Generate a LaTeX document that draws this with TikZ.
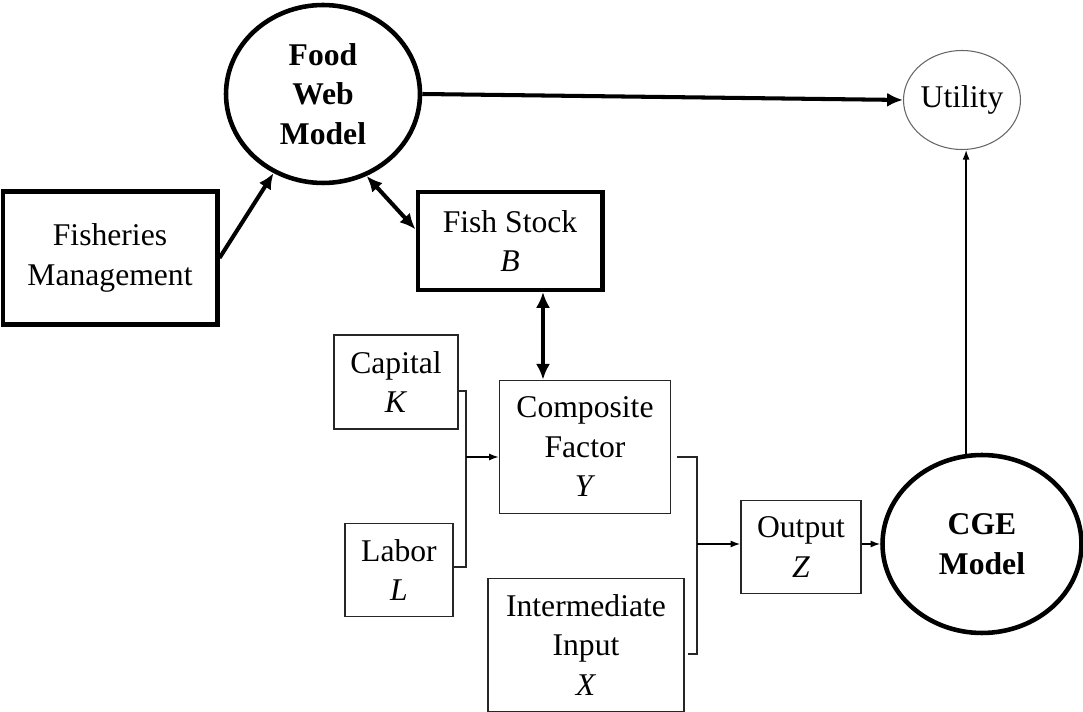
\documentclass[tikz,border=0pt]{standalone}
\usepackage{fontspec}
\setmainfont{Liberation Serif}
\usetikzlibrary{arrows.meta, shapes.geometric}

\begin{document}
\begin{tikzpicture}[x=0.02cm, y=-0.02cm,
    every node/.style={font=\fontsize{18}{22.5}\selectfont, align=center},
    thickbox/.style={draw, line width=2.3pt, inner sep=0pt},
    thinbox/.style={draw=black!85, line width=0.9pt, inner sep=0pt},
    model/.style={ellipse, draw, line width=2.6pt, inner sep=0pt, font=\fontsize{18}{22.5}\selectfont\bfseries},
    big/.style={line width=2.3pt, -{Latex[length=9pt,width=8pt]}},
    both/.style={line width=2.3pt, {Latex[length=9pt,width=8pt]}-{Latex[length=9pt,width=8pt]}},
    small/.style={line width=0.8pt, -{Latex[length=5.5pt,width=4pt]}},
    bracket/.style={draw=black!85, line width=0.9pt}]
    \useasboundingbox (0,0) rectangle (1083,712);

    % models and utility
    \node[model, minimum width=3.88cm, minimum height=3.56cm] (food) at (323,94) {Food\\Web\\Model};
    \node[ellipse, draw=black!60, line width=0.6pt, inner sep=0pt, minimum width=2.34cm, minimum height=1.98cm] (util) at (962,100) {Utility};
    \node[model, minimum width=3.98cm, minimum height=3.56cm] (cge) at (982,544) {CGE\\Model};

    % boxes
    \node[thickbox, minimum width=4.3cm, minimum height=2.66cm] (fm) at (110,258) {Fisheries\\Management};
    \node[thickbox, minimum width=3.7cm, minimum height=1.96cm] (fish) at (510,241) {Fish Stock\\\textit{B}};
    \node[thinbox, minimum width=2.48cm, minimum height=1.88cm] (cap) at (396,382) {Capital\\\textit{K}};
    \node[thinbox, minimum width=2.16cm, minimum height=1.86cm] (lab) at (399,570) {Labor\\\textit{L}};
    \node[thinbox, minimum width=3.42cm, minimum height=2.66cm] (comp) at (585,447) {Composite\\Factor\\\textit{Y}};
    \node[thinbox, minimum width=3.92cm, minimum height=2.66cm] (inter) at (586,645) {Intermediate\\Input\\\textit{X}};
    \node[thinbox, minimum width=2.4cm, minimum height=1.86cm] (out) at (801,547) {Output\\\textit{Z}};

    % thick links
    \draw[big] (fm.east) -- (food.238);
    \draw[both] (food.298) -- (fish.173);
    \draw[big] (food.east) -- (util.west);
    \coordinate (fs) at ([xshift=0.66cm]fish.south);
    \draw[both] (fs) -- (fs |- comp.north);

    % production tree
    \coordinate (kl) at (466,457);
    \draw[bracket] ([yshift=-0.18cm]cap.east) -| (kl) |- ([yshift=0.06cm]lab.east);
    \draw[small] (kl) -- (kl -| comp.west);
    \coordinate (yx) at (697,544);
    \draw[bracket] ([xshift=0.12cm,yshift=-0.2cm]comp.east) -| (yx) |- ([xshift=0.06cm,yshift=-0.18cm]inter.east);
    \draw[small] (yx) -- (yx -| out.west);
    \draw[small] (out.east |- yx) -- (cge.west);
    \draw[small] (cge.100) -- (cge.100 |- util.south);
\end{tikzpicture}
\end{document}
